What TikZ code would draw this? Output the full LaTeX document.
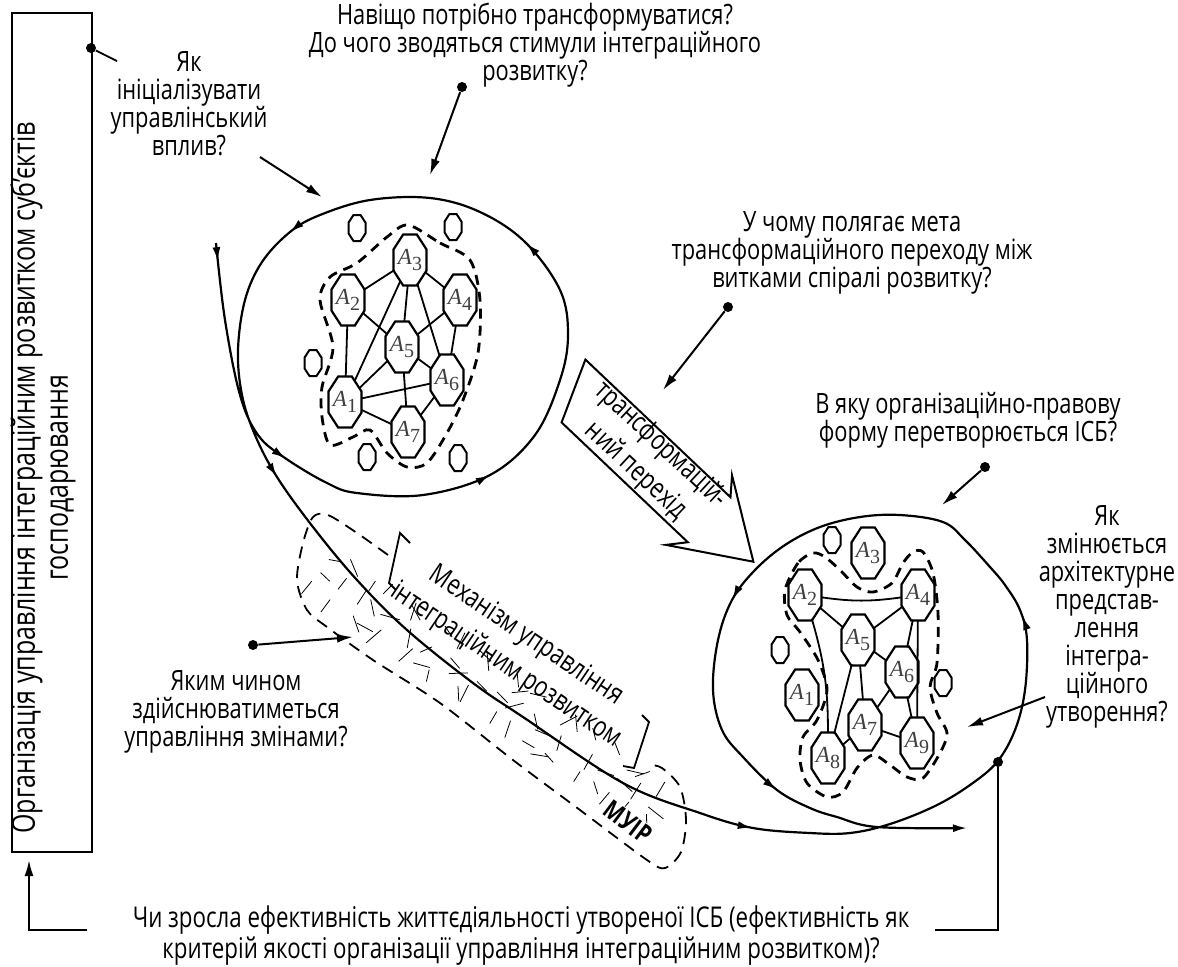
\documentclass[tikz,border=0pt]{standalone}
\usepackage{fontspec}
\setmainfont{Open Sans}[FakeStretch=0.78]
\newfontfamily\tms{Liberation Serif}
\usetikzlibrary{arrows.meta,shapes.geometric,decorations.markings}
\newcommand\ag[1]{\makebox[0pt]{{\tms\itshape A}\raisebox{-3pt}{\tms\fontsize{10}{10}\selectfont #1}}}
\tikzset{
  ask/.style={align=center,inner sep=0pt,font=\fontsize{14}{14}\selectfont},
  agent/.style={ellipse,minimum width=16.5pt,minimum height=25.5pt,inner sep=0pt,
    font=\fontsize{11.5}{11.5}\selectfont,text=black!75,
    append after command={\pgfextra{\draw[line width=1.1pt,shift={(\tikzlastnode.center)}]
      (-3.42pt,12.75pt) -- (3.42pt,12.75pt) -- (8.25pt,5.28pt) -- (8.25pt,-5.28pt) --
      (3.42pt,-12.75pt) -- (-3.42pt,-12.75pt) -- (-8.25pt,-5.28pt) -- (-8.25pt,5.28pt) -- cycle;}}},
  cell/.style={ellipse,minimum width=8.5pt,minimum height=13pt,inner sep=0pt,
    append after command={\pgfextra{\draw[line width=1pt,shift={(\tikzlastnode.center)}]
      (-1.76pt,6.5pt) -- (1.76pt,6.5pt) -- (4.25pt,2.69pt) -- (4.25pt,-2.69pt) --
      (1.76pt,-6.5pt) -- (-1.76pt,-6.5pt) -- (-4.25pt,-2.69pt) -- (-4.25pt,2.69pt) -- cycle;}}},
  link/.style={line width=0.9pt},
  ring/.style={line width=1.1pt},
  group/.style={line width=1.4pt,dash pattern=on 5pt off 3.5pt},
  blob/.style={line width=0.9pt,dash pattern=on 6pt off 4pt},
  hatch/.style={line width=0.4pt},
  dot/.style={circle,fill,inner sep=0pt,minimum size=5pt},
  pointer/.style={line width=1pt,-{Latex[length=8pt,width=4.5pt]}},
  flow/.style={decoration={markings,
    mark=at position 0.006 with {\arrow{Latex[length=7pt,width=4pt]}},
    mark=at position 0.077 with {\arrow{Latex[length=7pt,width=4pt]}},
    mark=at position 0.148 with {\arrow{Latex[length=7pt,width=4pt]}},
    mark=at position 0.237 with {\arrow{Latex[length=7pt,width=4pt]}},
    mark=at position 0.321 with {\arrow{Latex[length=7pt,width=4pt]}},
    mark=at position 0.409 with {\arrow{Latex[length=7pt,width=4pt]}},
    mark=at position 0.607 with {\arrow{Latex[length=7pt,width=4pt]}},
    mark=at position 0.744 with {\arrow{Latex[length=7pt,width=4pt]}},
    mark=at position 0.864 with {\arrow{Latex[length=7pt,width=4pt]}},
    mark=at position 0.935 with {\arrow{Latex[length=7pt,width=4pt]}}},
    postaction={decorate}}
}
\begin{document}
\begin{tikzpicture}[x=0.5pt,y=-0.5pt]
\useasboundingbox[fill=white] (0,0) rectangle (1178,966);
% left frame
\node[draw,line width=1pt,minimum width=40pt,minimum height=419.5pt,inner sep=0pt] (orgbox) at (52,432.5) {};
\node[ask,rotate=90,font=\fontsize{16}{16.5}\selectfont] (orgtxt) at (43,478) {Організація управління інтеграційним розвитком суб'єктів\\господарювання};
\node[dot] (d0) at (91,48) {};
\coordinate (t0) at (117,61);
\draw[link] (d0) -- (t0);
% questions
\node[ask] (qwhy) at (535,45) {Навіщо потрібно трансформуватися?\\До чого зводяться стимули інтеграційного\\розвитку?};
\node[ask] (qinit) at (189,104) {Як\\ініціалізувати\\управлінський\\вплив?};
\node[ask] (qgoal) at (852,253) {У чому полягає мета\\трансформаційного переходу між\\витками спіралі розвитку?};
\node[ask] (qform) at (968,420) {В яку організаційно-правову\\форму перетворюється ІСБ?};
\node[ask] (qarch) at (1107,617) {Як\\змінюється\\архітектурне\\представ-\\лення\\інтегра-\\ційного\\утворення?};
\node[ask] (qhow) at (236,712) {Яким чином\\здійснюватиметься\\управління змінами?};
\node[ask,font=\fontsize{14.3}{15.5}\selectfont] (qeff) at (521,936) {Чи зросла ефективність життєдіяльності утвореної ІСБ (ефективність як\\критерій якості організації управління інтеграційним розвитком)?};
% pointers
\node[dot] (d1) at (462,87) {};
\coordinate (t1) at (430,175);
\draw[pointer] (d1) -- (t1);
\coordinate (s2) at (260,157);
\coordinate (t2) at (322,197);
\draw[pointer] (s2) -- (t2);
\node[dot] (d3) at (728,307) {};
\coordinate (t3) at (663,390);
\draw[pointer] (d3) -- (t3);
\node[dot] (d4) at (985,467) {};
\coordinate (t4) at (942,505);
\draw[pointer] (d4) -- (t4);
\coordinate (s5) at (1045,697);
\coordinate (t5) at (967,727);
\draw[pointer] (s5) -- (t5);
\node[dot] (d6) at (253,645) {};
\coordinate (t6) at (353,637);
\draw[pointer] (d6) -- (t6);
\node[dot] (d7) at (998,762) {};
\coordinate (r1) at (998,930);
\coordinate (r2) at (935,930);
\draw[link] (d7) -- (r1) -- (r2);
\coordinate (l1) at (87,930);
\coordinate (l2) at (29,930);
\coordinate (l3) at (29,860);
\draw[pointer] (l1) -- (l2) -- (l3);
% spiral
\draw[ring,flow,-{Latex[length=7pt,width=4pt]}] plot[smooth,tension=0.6] coordinates {
  (216,243) (225,320) (240,395) (258,435) (285,458) (327,483) (357,493) (423,495)
  (490,475) (535,435) (560,380) (568,335) (560,290) (525,242) (480,212) (430,198)
  (370,200) (320,215) (290,232) (262,262) (245,300) (238,350) (242,395) (255,435)
  (277,477) (313,527) (357,580) (407,630) (473,683) (523,717) (623,783) (700,813)
  (753,828) (810,833) (850,833) (890,824) (935,806) (970,785) (997,762) (1015,730)
  (1025,690) (1027,640) (1020,610) (1005,585) (990,567) (965,540) (943,522) (900,515)
  (860,517) (820,527) (785,545) (755,570) (732,600) (718,640) (713,690) (722,730)
  (743,757) (777,790) (810,808) (837,817) (877,827) (967,828)};
% mechanism band
\draw[blob] plot[smooth] coordinates {(388,555) (357,533) (328,515) (313,517) (303,543) (297,580) (307,610) (327,627) (373,660) (440,703) (513,760) (580,810) (647,860) (665,868) (681,852) (686,820) (680,787) (662,768) (650,765)};
\begin{scope}
\clip (388,555) -- (357,533) -- (328,515) -- (313,517) -- (303,543) -- (297,580) -- (307,610) -- (327,627) -- (373,660) -- (440,703) -- (513,760) -- (580,810) -- (647,860) -- (665,868) -- (681,852) -- (686,820) -- (680,787) -- (662,768) -- (650,765) -- cycle;
\pgfmathsetseed{5}
\foreach \k in {0,...,19}{
  \foreach \j in {0,1,2}{
    \pgfmathsetmacro\t{(\k+rnd)/20}
    \pgfmathsetmacro\o{-30+21*\j+10*rnd}
    \pgfmathsetmacro\a{180*rnd}
    \pgfmathsetmacro\l{6+4*rnd}
    \draw[hatch] ({315+345*\t-0.56*\o},{572+243*\t+0.828*\o}) ++(\a:-\l) -- ++(\a:2*\l);
  }
}
\end{scope}
\draw[link] (410,543) -- (400,533) -- (389,583) -- (396,590);
\draw[link] (642,715) -- (649,722) -- (634,768) -- (623,766);
\node[ask,rotate=-34,font=\fontsize{14}{18}\selectfont] (mech) at (516,651) {Механізм управління\\інтеграційним розвитком};
\node[rotate=-37,fill=white,inner sep=0.5pt,font=\bfseries\fontsize{13}{13}\selectfont] (muir) at (628,822) {МУІР};
% transition arrow
\draw[line width=1pt,shift={(573.5,391)},rotate=-43.5] (-13,-31) -- (187,-31) -- (173,-48) -- (248,0) -- (173,48) -- (187,31) -- (13,31) -- cycle;
\node[ask,rotate=-43,font=\fontsize{14}{18}\selectfont] (translbl) at (648,458) {трансформацій-\\ний перехід};
% first state
\node[agent] (a3) at (410,260) {\ag3};
\node[agent] (a2) at (348,300) {\ag2};
\node[agent] (a4) at (460,300) {\ag4};
\node[agent] (a5) at (402,347) {\ag5};
\node[agent] (a6) at (447,380) {\ag6};
\node[agent] (a1) at (345,402) {\ag1};
\node[agent] (a7) at (408,432) {\ag7};
\foreach \a/\b in {a2/a3,a3/a4,a3/a5,a3/a1,a3/a6,a2/a5,a4/a5,a4/a6,a2/a1,a1/a5,a1/a6,a1/a7,a5/a7,a5/a6,a6/a7}
  \draw[link] (\a) -- (\b);
\node[cell] (s1) at (357,228) {};
\node[cell] (s2) at (453,227) {};
\node[cell] (s3) at (313,363) {};
\node[cell] (s4) at (367,457) {};
\node[cell] (s5) at (458,458) {};
\draw[group] plot[smooth cycle] coordinates {(408,225) (440,243) (470,260) (480,300) (478,353) (463,400) (447,433) (427,463) (407,467) (387,453) (370,430) (353,437) (330,445) (322,417) (322,387) (333,347) (320,300) (330,277) (357,263) (387,237)};
% second state
\node[agent] (b3) at (868,553) {\ag3};
\node[agent] (b2) at (805,595) {\ag2};
\node[agent] (b4) at (918,595) {\ag4};
\node[agent] (b5) at (858,640) {\ag5};
\node[agent] (b6) at (902,672) {\ag6};
\node[agent] (b1) at (802,695) {\ag1};
\node[agent] (b7) at (865,725) {\ag7};
\node[agent] (b8) at (828,758) {\ag8};
\node[agent] (b9) at (917,743) {\ag9};
\draw[link] (b2) to[bend right=8] (b4);
\draw[link] (b2) to[bend left=8] (b8);
\foreach \a/\b in {b2/b5,b4/b5,b4/b6,b4/b9,b5/b8,b5/b7,b5/b6,b6/b7,b6/b9,b7/b8,b7/b9}
  \draw[link] (\a) -- (\b);
\node[cell] (s6) at (832,540) {};
\node[cell] (s7) at (780,650) {};
\node[cell] (s8) at (943,683) {};
\draw[group] plot[smooth cycle] coordinates {(813,553) (798,563) (785,590) (787,615) (800,632) (818,660) (827,690) (817,720) (803,737) (800,760) (807,783) (827,797) (843,792) (857,768) (873,755) (890,765) (907,777) (923,778) (940,753) (947,733) (937,713) (930,687) (937,663) (938,613) (933,573) (923,552) (913,552) (903,563) (892,583) (873,592) (857,587) (840,570) (825,557)};
\end{tikzpicture}
\end{document}
